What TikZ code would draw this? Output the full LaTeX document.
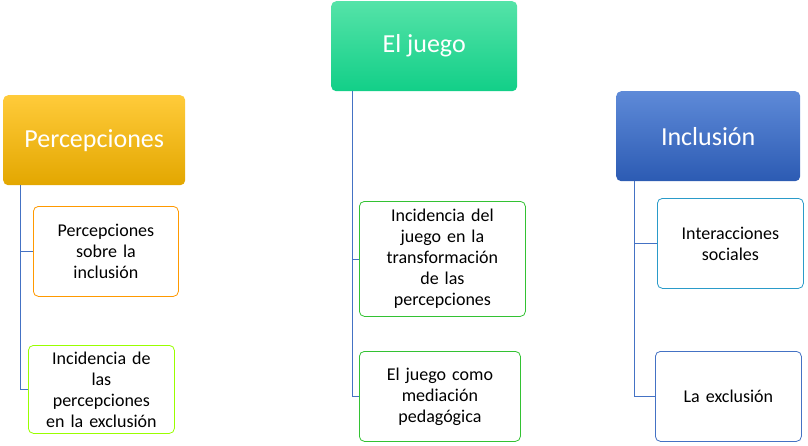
\documentclass[tikz,border=0pt]{standalone}
\usepackage{fontspec}
\setmainfont{Carlito}
\usetikzlibrary{positioning}
\definecolor{orgtop}{HTML}{FFCB3A}
\definecolor{orgbot}{HTML}{E3A700}
\definecolor{grntop}{HTML}{55E3A8}
\definecolor{grnbot}{HTML}{12CF88}
\definecolor{blutop}{HTML}{5E8AD8}
\definecolor{blubot}{HTML}{2C5BB3}
\definecolor{linecol}{HTML}{4472C4}
\tikzset{
  header/.style={rectangle, rounded corners=5pt, anchor=north west, minimum width=182pt,
    minimum height=90pt, text=white, font=\fontsize{26}{30}\selectfont, inner sep=2pt},
  child/.style={rectangle, rounded corners=5pt, draw, fill=white, anchor=north west,
    align=center, font=\fontsize{18}{21}\selectfont, inner sep=2pt, line width=0.8pt},
  link/.style={draw=linecol, line width=0.6pt}
}
\begin{document}
\begin{tikzpicture}[x=1pt,y=-1pt]
  \useasboundingbox (0,0) rectangle (808,445);
  % headers
  \node[header, top color=orgtop, bottom color=orgbot] (hdrP) at (3,95) {Percepciones};
  \node[header, top color=grntop, bottom color=grnbot, minimum width=186pt] (hdrJ) at (331,1) {El juego};
  \node[header, top color=blutop, bottom color=blubot, minimum width=184pt] (hdrI) at (616,91) {Inclusión};

  % children
  \node[child, draw=orange!80!yellow, minimum width=145pt, minimum height=90pt, text width=135pt] (pc1) at (33,206) {Percepciones\\sobre la\\inclusión};
  \node[child, draw=lime!80!green, minimum width=146pt, minimum height=88pt, text width=140pt] (pc2) at (28,345) {Incidencia de\\las\\percepciones\\en la exclusión};
  \node[child, draw=green!70!black!80, minimum width=166pt, minimum height=115pt, text width=156pt] (jc1) at (359,201) {Incidencia del\\juego en la\\transformación\\de las\\percepciones};
  \node[child, draw=green!70!black!80, minimum width=161pt, minimum height=90pt, text width=150pt] (jc2) at (359,351) {El juego como\\mediación\\pedagógica};
  \node[child, draw=cyan!60!teal, minimum width=146pt, minimum height=90pt, text width=136pt] (ic1) at (657,198) {Interacciones\\sociales};
  \node[child, draw=linecol, minimum width=146pt, minimum height=90pt, text width=136pt] (ic2) at (655,351) {La exclusión};

  % connectors
  \coordinate (p0) at (20,185);
  \coordinate (j0) at (352,91);
  \coordinate (i0) at (634,181);
  \begin{scope}[on background layer/.try]
  \draw[link] (p0) |- (pc1.west);
  \draw[link] (p0) |- (pc2.west);
  \draw[link] (j0) |- (jc1.west);
  \draw[link] (j0) |- (jc2.west);
  \draw[link] (i0) |- (ic1.west);
  \draw[link] (i0) |- (ic2.west);
  \end{scope}
\end{tikzpicture}
\end{document}
